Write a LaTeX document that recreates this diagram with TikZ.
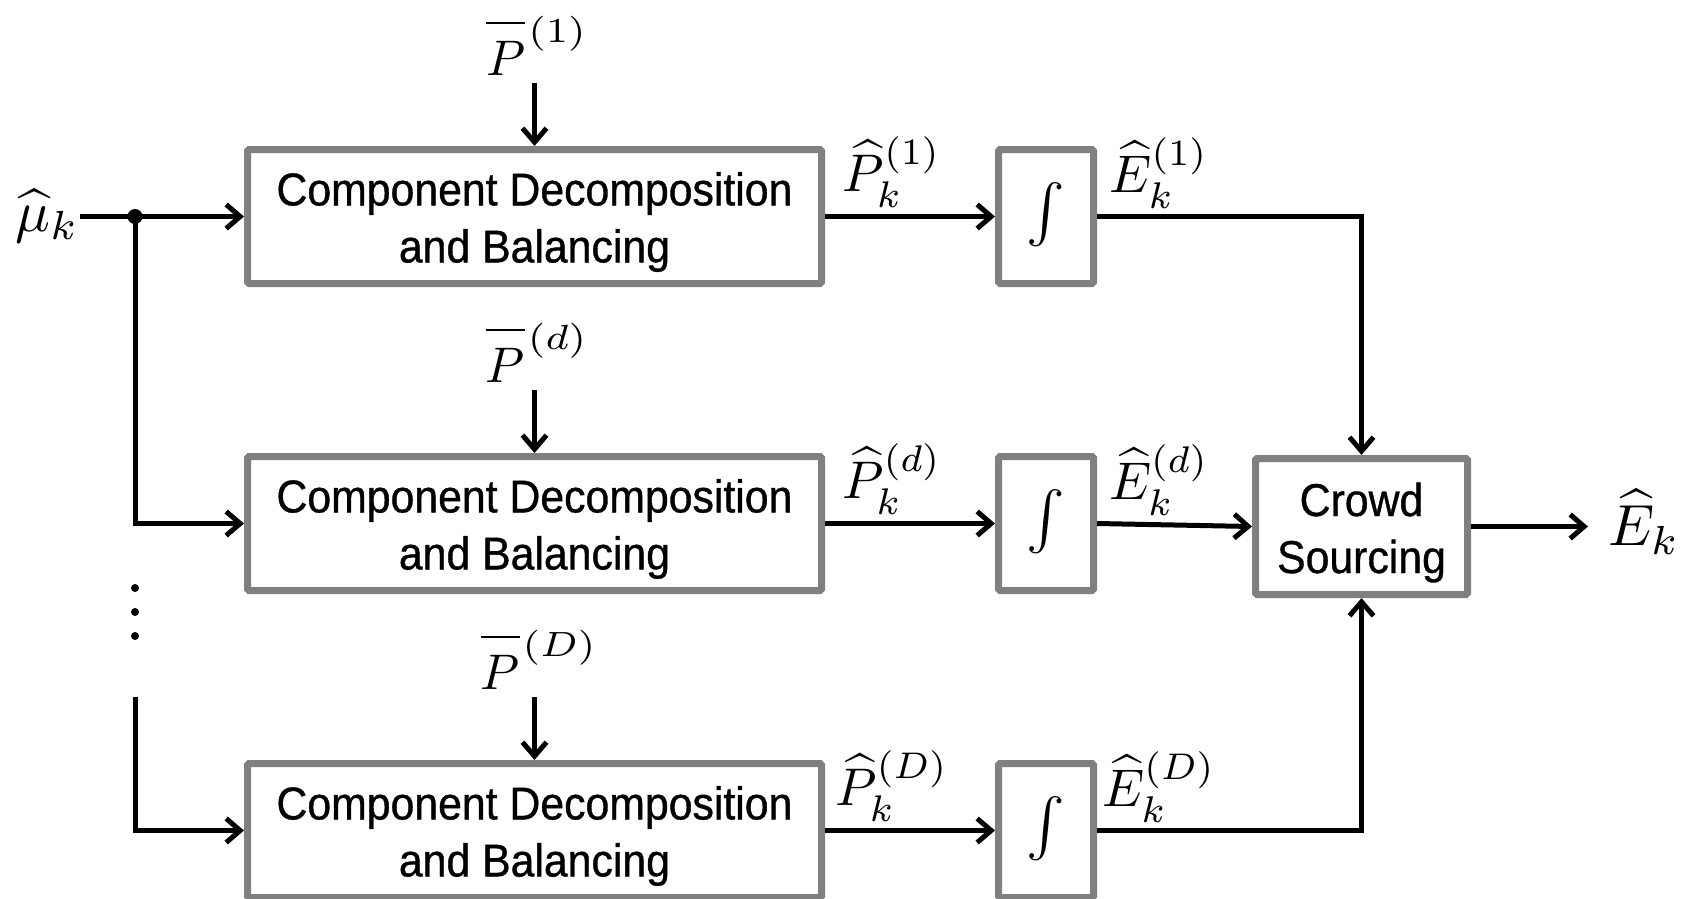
\documentclass[tikz,border=0pt]{standalone}
\usepackage{graphicx}
\usepackage{fontspec}
\newfontfamily\boxfont[FakeStretch=0.93,FakeBold=0.8]{Liberation Sans}
\usetikzlibrary{arrows.meta,calc}
\definecolor{boxgray}{HTML}{808080}
\newcommand{\mylabmath}[2][5.3]{\scalebox{#1}{$#2$}}
\newcommand{\mypbar}[1]{\overline{\rule{0pt}{9.2pt}P}\kern0.6pt\raisebox{6.75pt}{\scalebox{1.12}[1]{$\scriptstyle(#1)$}}}
\newcommand{\boxlines}[2]{\raisebox{-#1}[\height][\depth]{\begin{tabular}{@{}c@{}}#2\end{tabular}}}
\begin{document}
\begin{tikzpicture}[x=1pt,y=-1pt,
  blk/.style={draw=boxgray, line width=7pt, fill=white, inner sep=0pt, rounded corners=1.5pt,
    font=\boxfont\fontsize{46}{57}\selectfont, align=center},
  cdbox/.style={blk, minimum width=574pt, minimum height=134pt},
  intbox/.style={blk, minimum width=95pt, minimum height=134pt},
  csbox/.style={blk, minimum width=212pt, minimum height=136pt},
  wire/.style={line width=5pt, line join=miter},
  arr/.style={wire, -{Straight Barb[length=14pt,width=24pt]}},
  mlab/.style={inner sep=0pt}]

\useasboundingbox (0,0) rectangle (1686,898);

% main blocks
\node[cdbox] (cd1) at (534.5,216.5) {\boxlines{6pt}{Component Decomposition\\and Balancing}};
\node[cdbox] (cd2) at (534.5,523.5) {\boxlines{6pt}{Component Decomposition\\and Balancing}};
\node[cdbox] (cd3) at (534.5,830.5) {\boxlines{6pt}{Component Decomposition\\and Balancing}};
\node[intbox] (in1) at (1046,216.5) {\scalebox{5.8}{$\int$}};
\node[intbox] (in2) at (1046,523.5) {\scalebox{5.8}{$\int$}};
\node[intbox] (in3) at (1046,830.5) {\scalebox{5.8}{$\int$}};
\node[csbox] (cs) at (1361.5,526.5) {\boxlines{6.6pt}{Crowd\\Sourcing}};

% reference inputs
\coordinate (pb1) at (534.5,83);
\coordinate (pb2) at (534.5,390);
\coordinate (pb3) at (534.5,697);
\node[mlab, anchor=south] (lp1) at (536,76) {\mylabmath[5]{\mypbar{1}}};
\node[mlab, anchor=south] (lp2) at (536,383) {\mylabmath[5]{\mypbar{d}}};
\node[mlab, anchor=south] (lp3) at (538,690) {\mylabmath[5]{\mypbar{D}}};
\draw[arr] (pb1) -- (cd1.north);
\draw[arr] (pb2) -- (cd2.north);
\draw[arr] (pb3) -- (cd3.north);

% input mu
\node[mlab, anchor=base east] (mu) at (79,231) {\mylabmath[5.8]{\widehat{\mu}_k}};
\coordinate (m0) at (80,216.5);
\coordinate (split) at (135,216.5);
\coordinate (low) at (135,697);
\draw[arr] (m0) -- (cd1.west);
\fill (split) circle (7.5);
\draw[arr] (split) |- (cd2.west);
\draw[arr] (low) |- (cd3.west);
\fill (135,588) circle (4);
\fill (135,612) circle (4);
\fill (135,636) circle (4);

% power to integrators
\draw[arr] (cd1.east) -- (in1.west);
\draw[arr] (cd2.east) -- (in2.west);
\draw[arr] (cd3.east) -- (in3.west);
\node[mlab, anchor=south] (ph1) at (892,208) {\mylabmath{\widehat{P}_k^{(1)}}};
\node[mlab, anchor=south] (ph2) at (892,515) {\mylabmath{\widehat{P}_k^{(d)}}};
\node[mlab, anchor=south] (ph3) at (892,822) {\mylabmath{\widehat{P}_k^{(D)}}};

% integrators to crowd sourcing
\draw[arr] (in1.east) -| (cs.north);
\draw[arr] (in2.east) -- (cs.west);
\draw[arr] (in3.east) -| (cs.south);
\node[mlab, anchor=south] (eh1) at (1159,209) {\mylabmath{\widehat{E}_k^{(1)}}};
\node[mlab, anchor=south] (eh2) at (1159,516) {\mylabmath{\widehat{E}_k^{(d)}}};
\node[mlab, anchor=south] (eh3) at (1159,823) {\mylabmath{\widehat{E}_k^{(D)}}};

% output
\coordinate (outend) at (1588,526.5);
\draw[arr] (cs.east) -- (outend);
\node[mlab, anchor=west] (ek) at (1608,522) {\mylabmath[5.8]{\widehat{E}_k}};
\end{tikzpicture}
\end{document}
